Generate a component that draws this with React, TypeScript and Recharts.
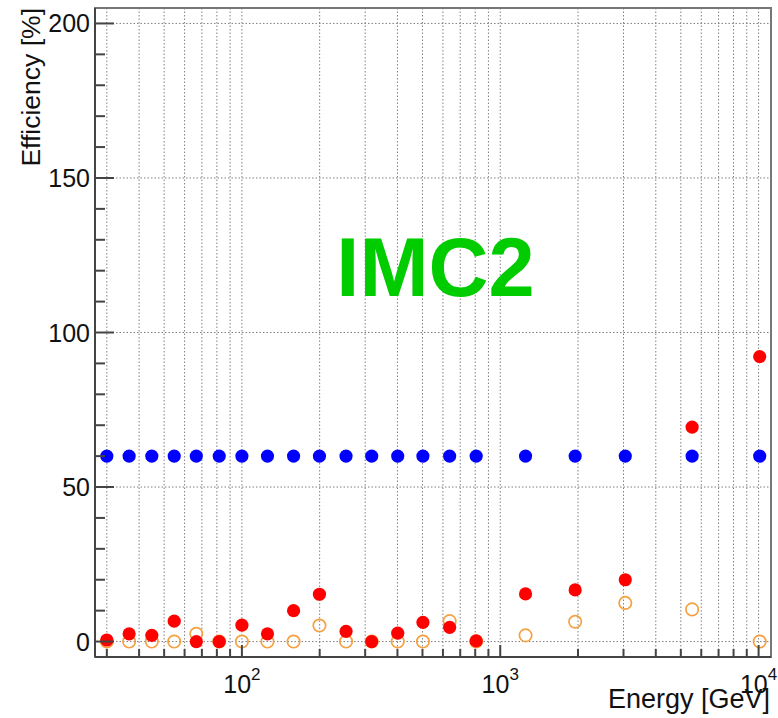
import {
  ScatterChart,
  Scatter,
  XAxis,
  YAxis,
  CartesianGrid,
  ReferenceArea
} from "recharts"

// energies in GeV
const energies = [
  30, 36.6, 44.8, 54.7, 66.6, 81.7, 100, 125.6, 158.5, 199.6, 253, 318, 401,
  502, 637, 807, 1253, 1950, 3048, 5530, 10100
]

const blueEff = [
  60, 60, 60, 60, 60, 60, 60, 60, 60, 60, 60, 60, 60, 60, 60, 60, 60, 60, 60,
  60, 60
]

const redEff = [
  0.5, 2.5, 2, 6.6, 0, 0, 5.3, 2.5, 10, 15.3, 3.3, 0, 2.7, 6.2, 4.6, 0.2, 15.4,
  16.7, 20, 69.4, 92.2
]

const orangeEff = [
  0, 0, 0, 0, 2.5, 0, 0, 0, 0, 5.2, 0, 0, 0, 0, 6.6, 0, 2, 6.4, 12.5, 10.4, 0
]

const xTicks = [
  30, 40, 50, 60, 70, 80, 90, 100, 200, 300, 400, 500, 600, 700, 800, 900,
  1000, 2000, 3000, 4000, 5000, 6000, 7000, 8000, 9000, 10000
]
const xMajor = [100, 1000, 10000]

const yTicks = [
  0, 10, 20, 30, 40, 50, 60, 70, 80, 90, 100, 110, 120, 130, 140, 150, 160,
  170, 180, 190, 200
]
const yMajor = [0, 50, 100, 150, 200]

const xDomain: [number, number] = [27, 11170]
const yDomain: [number, number] = [-5, 205]

const FONT = "'Liberation Sans', Arial, Helvetica, sans-serif"

const toPoints = (values: number[]) =>
  energies.map((e, i) => ({ x: e, y: values[i] }))

function XTick(props: any) {
  const { x, y, payload } = props
  const major = xMajor.includes(payload.value)
  const len = major ? 12 : 8
  const exp = Math.round(Math.log10(payload.value))
  return (
    <g>
      <line x1={x} x2={x} y1={y} y2={y - len} stroke="#444" strokeWidth={2} />
      {major && (
        <text
          x={x}
          y={y + 36}
          textAnchor="middle"
          fontFamily={FONT}
          fontSize={25}
          fill="#111"
        >
          10
          <tspan dy={-13} fontSize={17}>
            {exp}
          </tspan>
        </text>
      )}
    </g>
  )
}

function YTick(props: any) {
  const { x, y, payload } = props
  const major = yMajor.includes(payload.value)
  const len = major ? 19 : 10
  return (
    <g>
      <line x1={x} x2={x + len} y1={y} y2={y} stroke="#444" strokeWidth={2} />
      {major && (
        <text
          x={x - 5}
          y={y}
          dy="0.36em"
          textAnchor="end"
          fontFamily={FONT}
          fontSize={25}
          fill="#111"
        >
          {payload.value}
        </text>
      )}
    </g>
  )
}

export default function App() {
  return (
    <div
      style={{
        position: "absolute",
        left: 0,
        top: 0,
        width: 778,
        height: 718,
        background: "#fff"
      }}
    >
      <ScatterChart
        width={778}
        height={718}
        margin={{ top: 8, right: 7, bottom: 0, left: 0 }}
      >
        <CartesianGrid
          horizontalValues={yMajor}
          verticalValues={xTicks}
          stroke="#808080"
          strokeDasharray="1.5 2"
        />

        <XAxis
          dataKey="x"
          type="number"
          scale="log"
          domain={xDomain}
          allowDataOverflow
          ticks={xTicks}
          interval={0}
          height={61}
          tickSize={0}
          tickMargin={0}
          tick={(p: any) => <XTick {...p} />}
          axisLine={{ stroke: "#444", strokeWidth: 2 }}
        />

        <YAxis
          dataKey="y"
          type="number"
          domain={yDomain}
          allowDataOverflow
          ticks={yTicks}
          interval={0}
          width={95}
          tickSize={0}
          tickMargin={0}
          tick={(p: any) => <YTick {...p} />}
          axisLine={{ stroke: "#444", strokeWidth: 2 }}
        />

        <ReferenceArea
          x1={xDomain[0]}
          x2={xDomain[1]}
          y1={yDomain[0]}
          y2={yDomain[1]}
          fill="none"
          stroke="#777"
          strokeWidth={2}
        />

        <Scatter
          data={toPoints(blueEff)}
          isAnimationActive={false}
          shape={(p: any) => (
            <circle cx={p.cx} cy={p.cy} r={6.6} fill="#0000ff" />
          )}
        />

        <Scatter
          data={toPoints(orangeEff)}
          isAnimationActive={false}
          shape={(p: any) => (
            <circle
              cx={p.cx}
              cy={p.cy}
              r={6.2}
              fill="none"
              stroke="#f5a142"
              strokeWidth={1.7}
            />
          )}
        />

        <Scatter
          data={toPoints(redEff)}
          isAnimationActive={false}
          shape={(p: any) => (
            <circle cx={p.cx} cy={p.cy} r={6.6} fill="#ff0000" />
          )}
        />
      </ScatterChart>

      <svg
        width={778}
        height={718}
        style={{ position: "absolute", left: 0, top: 0, pointerEvents: "none" }}
      >
        <text
          x={40}
          y={8}
          transform="rotate(-90 40 8)"
          textAnchor="end"
          fontFamily={FONT}
          fontSize={26.5}
          fill="#111"
        >
          Efficiency [%]
        </text>
        <text
          x={770}
          y={708}
          textAnchor="end"
          fontFamily={FONT}
          fontSize={27}
          fill="#111"
        >
          Energy [GeV]
        </text>
        <text
          x={435.5}
          y={296}
          textAnchor="middle"
          fontFamily={FONT}
          fontWeight="bold"
          fontSize={83}
          fill="#00cc00"
        >
          IMC2
        </text>
      </svg>
    </div>
  )
}
